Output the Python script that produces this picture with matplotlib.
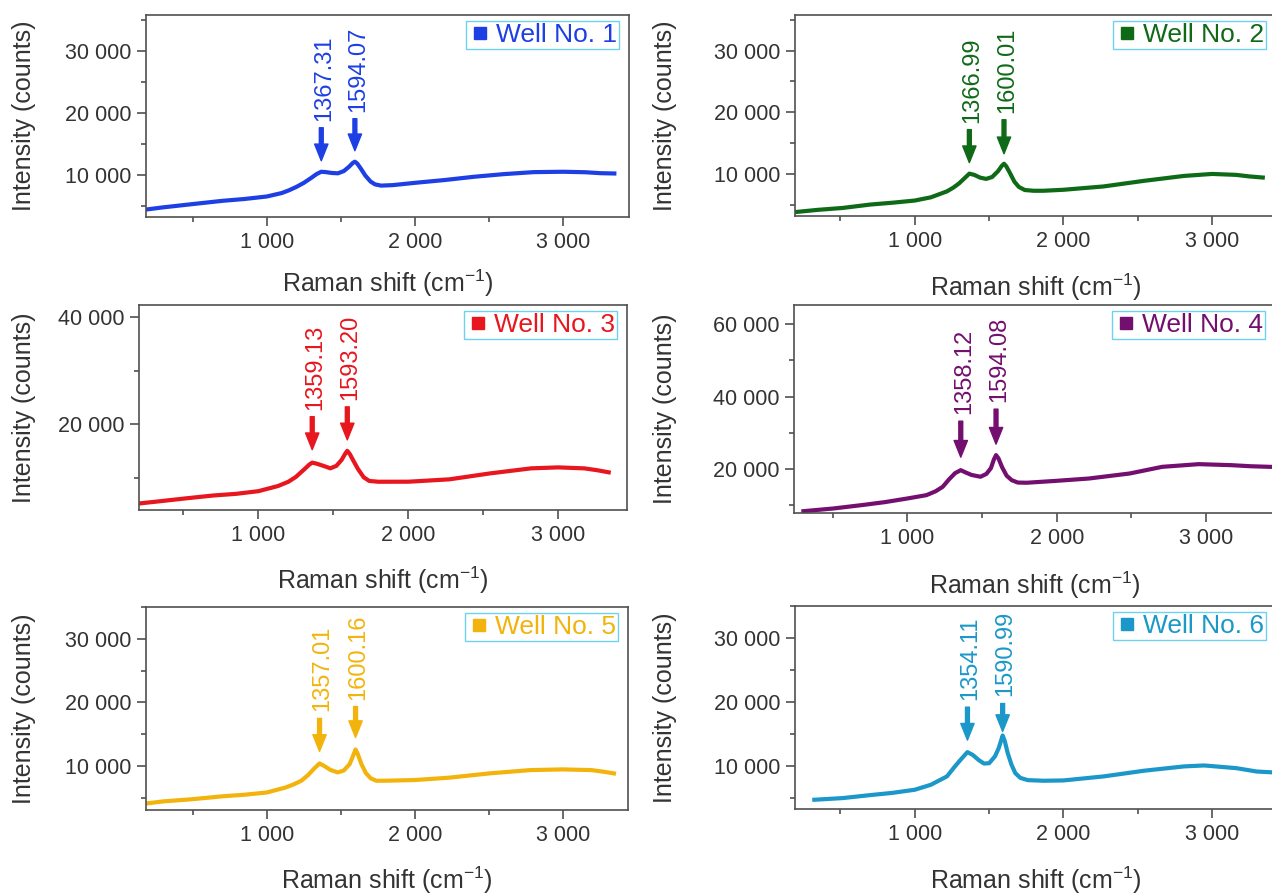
import matplotlib.pyplot as plt
import matplotlib.transforms as mtransforms
import numpy as np
from matplotlib import font_manager
from matplotlib.lines import Line2D
from matplotlib.ticker import FuncFormatter, MultipleLocator

# ---- data ---------------------------------------------------------------
wells = ["Well No. 1", "Well No. 2", "Well No. 3", "Well No. 4", "Well No. 5", "Well No. 6"]
colors = ["#1d3fe4", "#0f6a18", "#e8161e", "#730f6e", "#f2b40c", "#1b98c9"]

shift_1 = [185, 300, 500, 700, 850, 1000, 1100, 1150, 1200, 1250, 1300, 1335, 1367, 1395,
           1440, 1480, 1520, 1555, 1580, 1594, 1610, 1635, 1665, 1700, 1730, 1770, 1850,
           2000, 2200, 2400, 2600, 2800, 3000, 3150, 3250, 3344]
counts_1 = [4450, 4800, 5330, 5850, 6150, 6550, 7100, 7550, 8100, 8750, 9550, 10150, 10530,
            10480, 10330, 10280, 10650, 11350, 11950, 12150, 11850, 11000, 9900, 8950, 8500,
            8300, 8380, 8750, 9200, 9730, 10150, 10470, 10530, 10450, 10300, 10250]

shift_2 = [189, 350, 514, 700, 850, 1000, 1108, 1216, 1260, 1297, 1330, 1367, 1400, 1440,
           1480, 1520, 1560, 1585, 1600, 1615, 1640, 1670, 1700, 1740, 1800, 1865, 2000,
           2270, 2540, 2811, 3000, 3162, 3250, 3341]
counts_2 = [3870, 4250, 4550, 5100, 5400, 5750, 6270, 7230, 7850, 8510, 9250, 10100, 9900,
            9450, 9250, 9550, 10500, 11350, 11700, 11300, 10200, 8800, 7950, 7450, 7330,
            7330, 7490, 8030, 8930, 9730, 10050, 9900, 9650, 9470]

shift_3 = [213, 350, 518, 700, 850, 1000, 1131, 1200, 1250, 1308, 1340, 1359, 1390, 1431,
           1480, 1520, 1555, 1580, 1593, 1610, 1635, 1665, 1703, 1740, 1800, 2003, 2275,
           2548, 2820, 3000, 3174, 3260, 3338]
counts_3 = [5340, 5750, 6270, 6800, 7100, 7600, 8560, 9350, 10250, 11710, 12550, 12900,
            12700, 12330, 11850, 12300, 13400, 14600, 15100, 14500, 13200, 11700, 10170,
            9500, 9350, 9360, 9800, 10910, 11840, 12020, 11840, 11500, 11100]

shift_4 = [305, 502, 700, 850, 1000, 1128, 1190, 1237, 1280, 1320, 1358, 1390, 1430, 1490,
           1530, 1560, 1580, 1594, 1610, 1635, 1665, 1699, 1740, 1800, 2000, 2216, 2488,
           2706, 2951, 3169, 3300, 3427]
counts_4 = [8400, 9130, 10100, 10900, 11900, 12820, 13900, 15120, 17200, 18900, 19720, 19100,
            18400, 17900, 18700, 20300, 22700, 23870, 23000, 20500, 18200, 16960, 16300,
            16250, 16780, 17420, 18800, 20640, 21380, 21100, 20800, 20640]

shift_5 = [178, 300, 490, 700, 850, 1000, 1124, 1180, 1234, 1280, 1320, 1357, 1390, 1430,
           1480, 1520, 1560, 1585, 1600, 1615, 1640, 1670, 1703, 1740, 1800, 2001, 2228,
           2503, 2779, 3000, 3193, 3280, 3345]
counts_5 = [4100, 4450, 4780, 5250, 5500, 5850, 6610, 7100, 7700, 8600, 9600, 10420, 10000,
            9400, 9010, 9300, 10300, 11700, 12610, 11900, 10300, 8900, 8070, 7700, 7700, 7810,
            8170, 8850, 9370, 9480, 9370, 9100, 8850]

shift_6 = [324, 514, 700, 850, 1000, 1108, 1216, 1270, 1310, 1354, 1390, 1430, 1465, 1500,
           1540, 1565, 1591, 1605, 1625, 1650, 1676, 1710, 1760, 1865, 2000, 2270, 2541,
           2811, 2946, 3162, 3300, 3420]
counts_6 = [4670, 4930, 5400, 5750, 6240, 7020, 8330, 9900, 11000, 12140, 11700, 10900,
            10350, 10400, 11500, 12800, 14750, 13900, 12000, 10200, 8850, 8100, 7750, 7650,
            7700, 8330, 9220, 9900, 10050, 9630, 9100, 8950]

peaks = [["1367.31", "1594.07"], ["1366.99", "1600.01"], ["1359.13", "1593.20"],
         ["1358.12", "1594.08"], ["1357.01", "1600.16"], ["1354.11", "1590.99"]]

shifts = [shift_1, shift_2, shift_3, shift_4, shift_5, shift_6]
counts = [counts_1, counts_2, counts_3, counts_4, counts_5, counts_6]

# ---- layout (pixels) -----------------------------------------------------
W, H = 1272, 894
boxes = [(146, 15, 629, 217), (795, 15, 1276, 216), (139, 305, 627, 510),
         (794, 305, 1275, 513), (146, 607, 628, 810), (795, 606, 1276, 809)]
xlims = [(185, 3443), (194, 3430), (203, 3460), (242, 3461), (185, 3440), (194, 3430)]
ylims = [(3250, 35750), (3250, 35750), (4100, 42200), (7900, 65300), (3100, 35000),
         (3220, 35060)]
ysteps = [10000, 10000, 20000, 20000, 10000, 10000]
ylab_x = [24, 665, 24, 665, 24, 665]
xlab_y = [283, 287, 580, 585, 880, 880]
lifts = [(51, 50), (51, 51), (53, 51), (56, 53), (52, 50), (52, 39)]
gaps = [(11, 11), (11, 10), (13, 11), (13, 11), (12, 12), (12, 4)]

names = {f.name for f in font_manager.fontManager.ttflist}
narrow = "Liberation Sans Narrow" in names

plt.rcParams["font.family"] = ["Liberation Sans", "DejaVu Sans"]
plt.rcParams["mathtext.fontset"] = "custom"
plt.rcParams["mathtext.rm"] = "Liberation Sans"
plt.rcParams["mathtext.it"] = "Liberation Sans:italic"
plt.rcParams["mathtext.bf"] = "Liberation Sans:bold"

fig = plt.figure(figsize=(W / 100, H / 100), dpi=100)
fmt = FuncFormatter(lambda v, p: f"{int(round(v)):,}".replace(",", " "))
ink = "#333333"

for i in range(6):
    l, t, r, b = boxes[i]
    ax = fig.add_axes([l / W, 1 - b / H, (r - l) / W, (b - t) / H])
    c = colors[i]
    ax.plot(shifts[i], counts[i], color=c, lw=3.0, solid_joinstyle="round")
    ax.set_xlim(*xlims[i])
    ax.set_ylim(*ylims[i])

    ax.xaxis.set_major_locator(MultipleLocator(1000))
    ax.xaxis.set_minor_locator(MultipleLocator(500))
    ax.yaxis.set_major_locator(MultipleLocator(ysteps[i]))
    ax.yaxis.set_minor_locator(MultipleLocator(ysteps[i] / 2))
    ax.xaxis.set_major_formatter(fmt)
    ax.yaxis.set_major_formatter(fmt)

    for s in ax.spines.values():
        s.set_color("#505050")
        s.set_linewidth(1.2)
    ax.tick_params(which="both", direction="out", color="#505050", width=1.2,
                   labelcolor=ink, top=False, right=False)
    ax.tick_params(which="major", length=6.5, pad=4)
    ax.tick_params(which="minor", length=3.5)
    if narrow:
        ax.tick_params(labelsize=17, labelfontfamily="Liberation Sans Narrow")
    else:
        ax.tick_params(labelsize=15.5)

    w_px, h_px = r - l, b - t
    ax.set_xlabel("Raman shift (cm$^{-1}$)", fontsize=18, color=ink, va="center")
    ax.xaxis.set_label_coords(0.5, -(xlab_y[i] - b) / h_px)
    ax.set_ylabel("Intensity (counts)", fontsize=18, color=ink, va="center")
    ax.yaxis.set_label_coords(-(l - ylab_x[i]) / w_px, 0.5)

    # legend: coloured square + name
    h = Line2D([], [], ls="none", marker="s", ms=9, color=c)
    trans = mtransforms.offset_copy(ax.transAxes, fig=fig, x=-10, y=-6, units="dots")
    leg = ax.legend([h], [wells[i]], loc="upper right", bbox_to_anchor=(1, 1),
                    bbox_transform=trans, borderaxespad=0, fontsize=19, labelcolor=c,
                    frameon=True, fancybox=False, edgecolor="#6cd2ee", framealpha=1,
                    handlelength=0.9, handletextpad=0.15, borderpad=0.08)
    leg.get_frame().set_linewidth(1.0)

    # peak arrows and labels
    for k, lab in enumerate(peaks[i]):
        xp = float(lab)
        yp = np.interp(xp, shifts[i], counts[i])
        lift, gap = lifts[i][k], gaps[i][k]
        ax.annotate("", xy=(xp, yp), xytext=(0, lift - 7), textcoords="offset pixels",
                    arrowprops=dict(arrowstyle="simple,head_length=0.6,head_width=0.48,tail_width=0.14",
                                    color=c, shrinkA=0, shrinkB=gap * 0.72, mutation_scale=20))
        ax.annotate(lab, xy=(xp, yp), xytext=(3, lift), textcoords="offset pixels",
                    rotation=90, ha="center", va="bottom", fontsize=17, color=c)

fig.savefig("out.png", dpi=100)
